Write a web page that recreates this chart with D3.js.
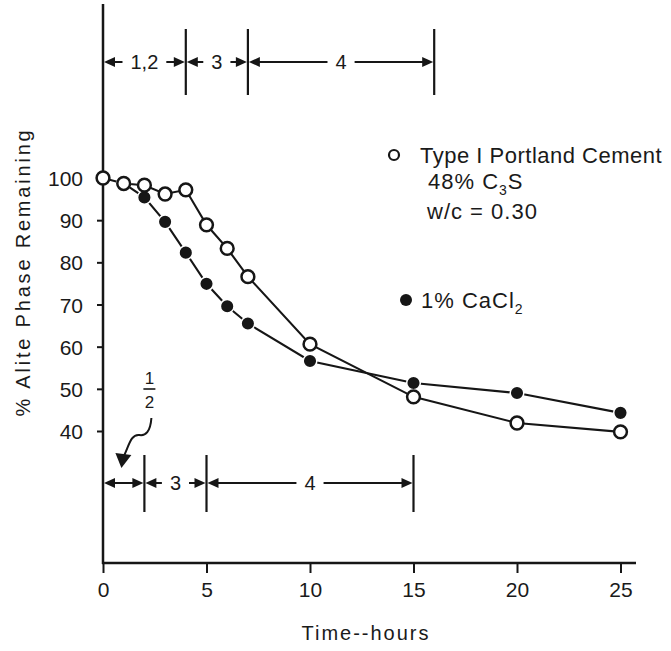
<!DOCTYPE html>
<html>
<head>
<meta charset="utf-8">
<script src="https://cdn.jsdelivr.net/npm/d3@7"></script>
<style>
  html, body { margin: 0; padding: 0; background: #fff; }
  svg { display: block; }
  text { font-family: "Liberation Sans", Arial, Helvetica, sans-serif; fill: #1a1a1a; }
</style>
</head>
<body>
<svg id="chart" width="671" height="651"></svg>
<script>
// ---- data ----
const hours        = [0, 1, 2, 3, 4, 5, 6, 7, 10, 15, 20, 25];
const portland     = [100, 98.7, 98.3, 96.2, 97.2, 88.9, 83.3, 76.6, 60.6, 48.1, 41.9, 39.8];
const cacl2Hours   = [1, 2, 3, 4, 5, 6, 7, 10, 15, 20, 25];
const cacl2        = [98.7, 95.4, 89.6, 82.3, 74.9, 69.6, 65.5, 56.6, 51.4, 49.0, 44.3];
const xTicks       = [0, 5, 10, 15, 20, 25];
const yTicks       = [40, 50, 60, 70, 80, 90, 100];
const topStageLabels    = ["1,2", "3", "4"];
const topStageBounds    = [0, 4, 7, 16];
const bottomStageLabels = ["", "3", "4"];
const bottomStageBounds = [0, 2, 5, 15];
const legendLines  = ["Type I Portland Cement", "48% C|3|S", "w/c = 0.30"];
const legend2      = "1% CaCl|2|";
const xTitle = "Time--hours";
const yTitle = "% Alite Phase Remaining";

// ---- layout ----
const ink = "#161616";
const svg = d3.select("#chart");
const x = d3.scaleLinear().domain([0, 25]).range([103, 620.5]);
const y = d3.scaleLinear().domain([40, 100]).range([431, 178]);
const axisY = 563;    // pixel row of the time axis
const axisTop = 4;    // top of vertical axis
const xEnd = 636;

// axis lines
svg.append("line").attr("x1", x(0)).attr("x2", x(0)).attr("y1", axisTop).attr("y2", axisY + 1)
  .attr("stroke", ink).attr("stroke-width", 2.5);
svg.append("line").attr("x1", x(0) - 1).attr("x2", xEnd).attr("y1", axisY).attr("y2", axisY)
  .attr("stroke", ink).attr("stroke-width", 2.5);

// y ticks
const gy = svg.append("g").attr("transform", `translate(${x(0)},0)`)
  .call(d3.axisLeft(y).tickValues(yTicks).tickSize(6).tickPadding(14).tickFormat(d3.format("d")));
gy.select(".domain").remove();
gy.selectAll(".tick line").attr("stroke", ink).attr("stroke-width", 2);
gy.selectAll(".tick text").attr("font-size", 21).attr("fill", ink)
  .attr("font-family", "'Liberation Sans', Arial, sans-serif").attr("dy", "0.36em");

// x ticks
const gx = svg.append("g").attr("transform", `translate(0,${axisY})`)
  .call(d3.axisBottom(x).tickValues(xTicks).tickSize(10).tickFormat(d3.format("d")));
gx.select(".domain").remove();
gx.selectAll(".tick line").attr("stroke", ink).attr("stroke-width", 2);
gx.selectAll(".tick text").attr("font-size", 21).attr("fill", ink)
  .attr("font-family", "'Liberation Sans', Arial, sans-serif")
  .attr("y", 34).attr("dy", 0);

// axis titles
svg.append("text").attr("x", 366).attr("y", 640).attr("text-anchor", "middle")
  .attr("font-size", 20).attr("letter-spacing", 2).text(xTitle);
svg.append("text").attr("transform", "translate(30,272) rotate(-90)").attr("text-anchor", "middle")
  .attr("font-size", 20).attr("letter-spacing", 2.8).text(yTitle);

// ---- stage arrows ----
function arrowHead(g, tipX, yy, dir) {
  // dir: -1 points left, +1 points right
  const L = 11, W = 5;
  g.append("path")
    .attr("d", `M${tipX},${yy} L${tipX - dir * L},${yy - W} L${tipX - dir * L},${yy + W} Z`)
    .attr("fill", ink);
}
function stageRow(labels, bounds, yy, markTop, markBot) {
  const g = svg.append("g");
  bounds.slice(1).forEach(b => {
    g.append("line").attr("x1", x(b)).attr("x2", x(b)).attr("y1", markTop).attr("y2", markBot)
      .attr("stroke", ink).attr("stroke-width", 2.2);
  });
  labels.forEach((lab, i) => {
    const a = x(bounds[i]), b = x(bounds[i + 1]), m = (a + b) / 2;
    arrowHead(g, a + 1, yy, -1);
    arrowHead(g, b - 1, yy, 1);
    if (lab) {
      const t = g.append("text").attr("x", m).attr("y", yy + 7).attr("text-anchor", "middle")
        .attr("font-size", 20).text(lab);
      const w = t.node().getComputedTextLength();
      const gap = w / 2 + 8;
      g.append("line").attr("x1", a + 6).attr("x2", m - gap).attr("y1", yy).attr("y2", yy)
        .attr("stroke", ink).attr("stroke-width", 2);
      g.append("line").attr("x1", m + gap).attr("x2", b - 6).attr("y1", yy).attr("y2", yy)
        .attr("stroke", ink).attr("stroke-width", 2);
    } else {
      g.append("line").attr("x1", a + 6).attr("x2", b - 6).attr("y1", yy).attr("y2", yy)
        .attr("stroke", ink).attr("stroke-width", 2);
    }
  });
  return g;
}
stageRow(topStageLabels, topStageBounds, 62, 29, 95);
stageRow(bottomStageLabels, bottomStageBounds, 483, 455, 512);

// "1/2" note with wavy pointer
const fx = x(2) + 5;
svg.append("text").attr("x", fx).attr("y", 384).attr("text-anchor", "middle").attr("font-size", 17).text("1");
svg.append("line").attr("x1", fx - 6).attr("x2", fx + 6).attr("y1", 389).attr("y2", 389)
  .attr("stroke", ink).attr("stroke-width", 1.6);
svg.append("text").attr("x", fx).attr("y", 408).attr("text-anchor", "middle").attr("font-size", 17).text("2");
svg.append("path")
  .attr("d", `M${fx + 2},418 C${fx + 1},432 ${fx - 4},436 ${fx - 10},435 C${fx - 18},434 ${fx - 20},444 ${fx - 25},455`)
  .attr("fill", "none").attr("stroke", ink).attr("stroke-width", 2);
svg.append("path")
  .attr("d", `M${fx - 34},453 L${fx - 18},455 L${fx - 28},468 Z`).attr("fill", ink);

// ---- data series ----
const line = d3.line().x(d => x(d[0])).y(d => y(d[1]));
const pData = hours.map((h, i) => [h, portland[i]]);
const cData = cacl2Hours.map((h, i) => [h, cacl2[i]]);

svg.append("path").datum(cData).attr("d", line).attr("fill", "none")
  .attr("stroke", ink).attr("stroke-width", 2.1);
svg.append("path").datum(pData).attr("d", line).attr("fill", "none")
  .attr("stroke", ink).attr("stroke-width", 2.1);

svg.append("g").selectAll("circle").data(cData).join("circle")
  .attr("cx", d => x(d[0])).attr("cy", d => y(d[1])).attr("r", 6.8)
  .attr("fill", ink).attr("stroke", "#fff").attr("stroke-width", 1.5);
svg.append("g").selectAll("circle").data(pData).join("circle")
  .attr("cx", d => x(d[0])).attr("cy", d => y(d[1])).attr("r", 6.4)
  .attr("fill", "#fff").attr("stroke", ink).attr("stroke-width", 2.5);

// ---- legend ----
function richText(sel, s) {
  s.split("|").forEach((part, i) => {
    if (!part) return;
    const ts = sel.append("tspan").text(part);
    if (i % 2 === 1) ts.attr("font-size", 14).attr("dy", 6);
    else if (i > 0) ts.attr("dy", -6);
  });
}
svg.append("circle").attr("cx", 394).attr("cy", 155).attr("r", 5)
  .attr("fill", "#fff").attr("stroke", ink).attr("stroke-width", 2.2);
const legY = [163, 189, 219];
const legX = [420, 428, 427];
legendLines.forEach((s, i) => {
  const t = svg.append("text").attr("x", legX[i]).attr("y", legY[i]).attr("font-size", 22)
    .attr("letter-spacing", i === 0 ? 0.5 : 1);
  richText(t, s);
});
svg.append("circle").attr("cx", 406).attr("cy", 300).attr("r", 6).attr("fill", ink);
const t2 = svg.append("text").attr("x", 421).attr("y", 308).attr("font-size", 22).attr("letter-spacing", 1);
richText(t2, legend2);
</script>
</body>
</html>
